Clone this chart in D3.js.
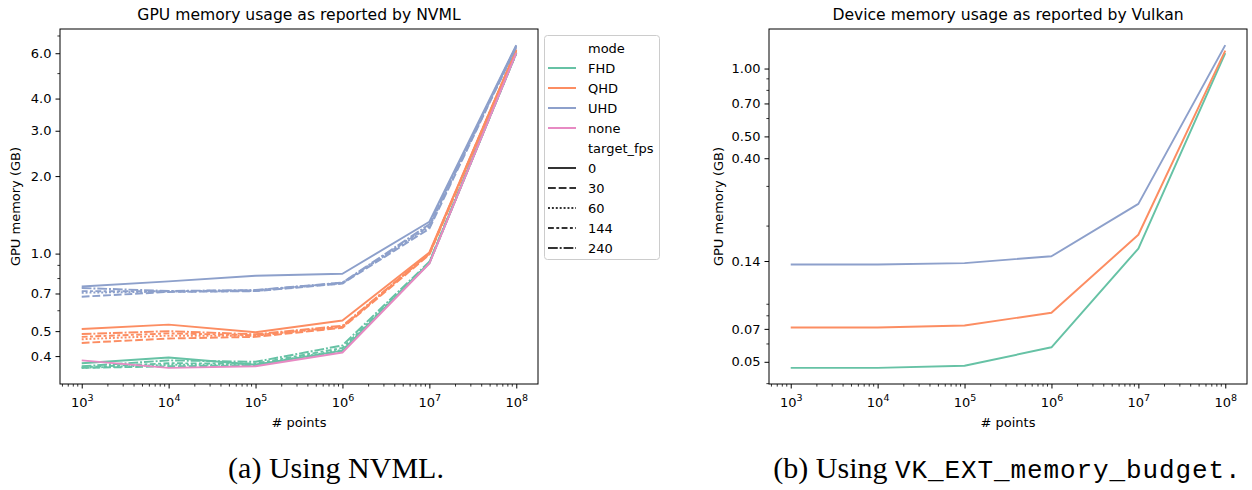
<!DOCTYPE html>
<html>
<head>
<meta charset="utf-8">
<script src="https://cdn.jsdelivr.net/npm/d3@7"></script>
<style>
  body { margin: 0; background: #fff; }
  svg text { font-family: "DejaVu Sans", sans-serif; fill: #000; }
  .caption { font-family: "Liberation Serif", serif; }
  .mono { font-family: "Liberation Mono", monospace; }
</style>
</head>
<body>
<svg id="chart" width="1252" height="490"></svg>
<script>
// x values (# points)
const points = [1e3, 1e4, 1e5, 1e6, 1e7, 1e8];
const modes = ["FHD", "QHD", "UHD", "none"];
const fpsLevels = [0, 30, 60, 144, 240];

// NVML readings (GB), one row per target_fps (0, 30, 60, 144, 240)
const nvmlFHD = [
    [0.375, 0.395, 0.370, 0.420, 0.92, 6.00],
    [0.360, 0.365, 0.368, 0.418, 0.92, 6.00],
    [0.360, 0.370, 0.370, 0.423, 0.92, 6.00],
    [0.362, 0.375, 0.374, 0.430, 0.92, 6.00],
    [0.365, 0.385, 0.380, 0.440, 0.93, 6.05]
];
const nvmlQHD = [
    [0.510, 0.530, 0.495, 0.550, 1.01, 6.20],
    [0.450, 0.468, 0.475, 0.515, 0.99, 6.15],
    [0.465, 0.480, 0.480, 0.520, 1.00, 6.15],
    [0.475, 0.490, 0.482, 0.520, 1.00, 6.15],
    [0.487, 0.500, 0.486, 0.525, 1.00, 6.20]
];
const nvmlUHD = [
    [0.745, 0.780, 0.820, 0.835, 1.33, 6.45],
    [0.680, 0.710, 0.715, 0.765, 1.25, 6.35],
    [0.705, 0.712, 0.716, 0.768, 1.27, 6.35],
    [0.715, 0.714, 0.720, 0.770, 1.28, 6.40],
    [0.735, 0.716, 0.722, 0.772, 1.30, 6.40]
];
const nvmlNone = [
    [0.385, 0.360, 0.365, 0.413, 0.915, 6.00]
];

// Vulkan memory budget readings (GB)
const vkFHD = [0.047, 0.047, 0.048, 0.058, 0.159, 1.17];
const vkQHD = [0.071, 0.071, 0.0724, 0.0826, 0.183, 1.20];
const vkUHD = [0.135, 0.135, 0.137, 0.147, 0.251, 1.27];

const nvmlTicks = [0.4, 0.5, 0.7, 1, 2, 3, 4, 6];
const vkTicks = [0.05, 0.07, 0.14, 0.4, 0.5, 0.7, 1];

const colors = { FHD: "#66c2a5", QHD: "#fc8d62", UHD: "#8da0cb", none: "#e78ac3" };
const dashes = { 0: null, 30: "7.8,2.9", 60: "1.95,1.95", 144: "5.85,2.44,2.9,2.44", 240: "9.75,1.95,1.95,1.95" };

const svg = d3.select("#chart");

// build series
const nvmlSeries = [];
[["FHD", nvmlFHD], ["QHD", nvmlQHD], ["UHD", nvmlUHD], ["none", nvmlNone]].forEach(([m, rows]) => {
    rows.forEach((vals, i) => nvmlSeries.push({ mode: m, fps: fpsLevels[i], values: vals }));
});
const vkSeries = [
    { mode: "FHD", fps: 0, values: vkFHD },
    { mode: "QHD", fps: 0, values: vkQHD },
    { mode: "UHD", fps: 0, values: vkUHD }
];

// log domain with matplotlib-like 5% margin
function logDomain(vals) {
    const lo = Math.log10(d3.min(vals)), hi = Math.log10(d3.max(vals));
    const m = (hi - lo) * 0.05;
    return [Math.pow(10, lo - m), Math.pow(10, hi + m)];
}

function minorTicks(domain, major) {
    const out = [];
    for (let e = -3; e <= 9; e++) {
        for (let k = 2; k <= 9; k++) {
            const v = k * Math.pow(10, e);
            if (v >= domain[0] && v <= domain[1] && !major.some(t => Math.abs(t - v) / v < 1e-6)) out.push(v);
        }
    }
    return out;
}

function drawPanel(opts) {
    const { left, right, top, bottom, series, ticks, fmt, title } = opts;

    const x = d3.scaleLog().domain(logDomain(points)).range([left, right]);
    const allVals = series.flatMap(s => s.values);
    const y = d3.scaleLog().domain(logDomain(allVals)).range([bottom, top]);

    const g = svg.append("g");

    // lines
    const line = d3.line()
        .x((d, i) => x(points[i]))
        .y(d => y(d));

    g.selectAll(".series")
        .data(series)
        .join("path")
        .attr("d", d => line(d.values))
        .attr("fill", "none")
        .attr("stroke", d => colors[d.mode])
        .attr("stroke-width", 1.95)
        .attr("stroke-linejoin", "round")
        .attr("stroke-dasharray", d => dashes[d.fps]);

    // x axis
    const xAxis = g.append("g")
        .attr("transform", `translate(0,${bottom})`)
        .call(d3.axisBottom(x).tickValues(points).tickSize(4.5).tickPadding(4).tickFormat(""));
    xAxis.select(".domain").remove();
    xAxis.selectAll(".tick line").attr("stroke", "#000").attr("stroke-width", 1);
    xAxis.selectAll(".tick text").remove();
    xAxis.selectAll(".tick").append("text")
        .attr("y", 23)
        .attr("text-anchor", "middle")
        .attr("font-size", 13)
        .each(function (d) {
            const t = d3.select(this);
            t.append("tspan").text("10");
            t.append("tspan").attr("dy", -6).attr("font-size", 9.5).text(Math.round(Math.log10(d)));
        });

    g.append("g")
        .attr("transform", `translate(0,${bottom})`)
        .selectAll("line")
        .data(minorTicks(x.domain(), points))
        .join("line")
        .attr("x1", d => x(d)).attr("x2", d => x(d))
        .attr("y1", 0).attr("y2", 2.6)
        .attr("stroke", "#000").attr("stroke-width", 0.8);

    // y axis
    const yAxis = g.append("g")
        .attr("transform", `translate(${left},0)`)
        .call(d3.axisLeft(y).tickValues(ticks).tickSize(4.5).tickPadding(4).tickFormat(d3.format(fmt)));
    yAxis.select(".domain").remove();
    yAxis.selectAll(".tick line").attr("stroke", "#000").attr("stroke-width", 1);
    yAxis.selectAll(".tick text")
        .attr("font-size", 13)
        .attr("font-family", "DejaVu Sans")
        .attr("fill", "#000");

    g.append("g")
        .attr("transform", `translate(${left},0)`)
        .selectAll("line")
        .data(minorTicks(y.domain(), ticks))
        .join("line")
        .attr("y1", d => y(d)).attr("y2", d => y(d))
        .attr("x1", 0).attr("x2", -2.6)
        .attr("stroke", "#000").attr("stroke-width", 0.8);

    // frame
    g.append("rect")
        .attr("x", left).attr("y", top)
        .attr("width", right - left).attr("height", bottom - top)
        .attr("fill", "none").attr("stroke", "#000").attr("stroke-width", 1);

    // labels
    g.append("text")
        .attr("x", (left + right) / 2).attr("y", 20)
        .attr("text-anchor", "middle").attr("font-size", 15.6)
        .text(title);
    g.append("text")
        .attr("x", (left + right) / 2).attr("y", 427)
        .attr("text-anchor", "middle").attr("font-size", 13)
        .text("# points");
    g.append("text")
        .attr("transform", `translate(${opts.ylabelX},${(top + bottom) / 2}) rotate(-90)`)
        .attr("text-anchor", "middle").attr("font-size", 13)
        .text("GPU memory (GB)");
}

drawPanel({
    left: 60, right: 538, top: 29, bottom: 384,
    series: nvmlSeries, ticks: nvmlTicks, fmt: ".1f",
    title: "GPU memory usage as reported by NVML", ylabelX: 20
});
drawPanel({
    left: 769, right: 1247, top: 29, bottom: 384,
    series: vkSeries, ticks: vkTicks, fmt: ".2f",
    title: "Device memory usage as reported by Vulkan", ylabelX: 723
});

// legend
const legendItems = [{ label: "mode", head: true }]
    .concat(modes.map(m => ({ label: m, color: colors[m], dash: null })))
    .concat([{ label: "target_fps", head: true }])
    .concat(fpsLevels.map(f => ({ label: String(f), color: "#333333", dash: dashes[f] })));

const legend = svg.append("g");
legend.append("rect")
    .attr("x", 544.5).attr("y", 35.5)
    .attr("width", 115).attr("height", 224)
    .attr("rx", 3)
    .attr("fill", "#fff").attr("fill-opacity", 0.8)
    .attr("stroke", "#cccccc").attr("stroke-width", 1);

const rows = legend.selectAll(".row")
    .data(legendItems)
    .join("g")
    .attr("transform", (d, i) => `translate(0,${48 + i * 20})`);

rows.filter(d => !d.head).append("line")
    .attr("x1", 548).attr("x2", 576)
    .attr("stroke", d => d.color)
    .attr("stroke-width", 1.95)
    .attr("stroke-dasharray", d => d.dash);

rows.append("text")
    .attr("x", 588).attr("y", 4.7)
    .attr("font-size", 13)
    .text(d => d.label);

// sub-figure captions
svg.append("text")
    .attr("class", "caption")
    .attr("x", 336).attr("y", 478)
    .attr("text-anchor", "middle").attr("font-size", 30)
    .text("(a) Using NVML.");

const capB = svg.append("text")
    .attr("class", "caption")
    .attr("x", 1007).attr("y", 478)
    .attr("text-anchor", "middle").attr("font-size", 30);
capB.append("tspan").text("(b) Using ");
capB.append("tspan").attr("class", "mono").attr("font-size", 26).attr("letter-spacing", 0.9).text("VK_EXT_memory_budget");
capB.append("tspan").attr("class", "mono").attr("font-size", 26).text(".");
</script>
</body>
</html>
